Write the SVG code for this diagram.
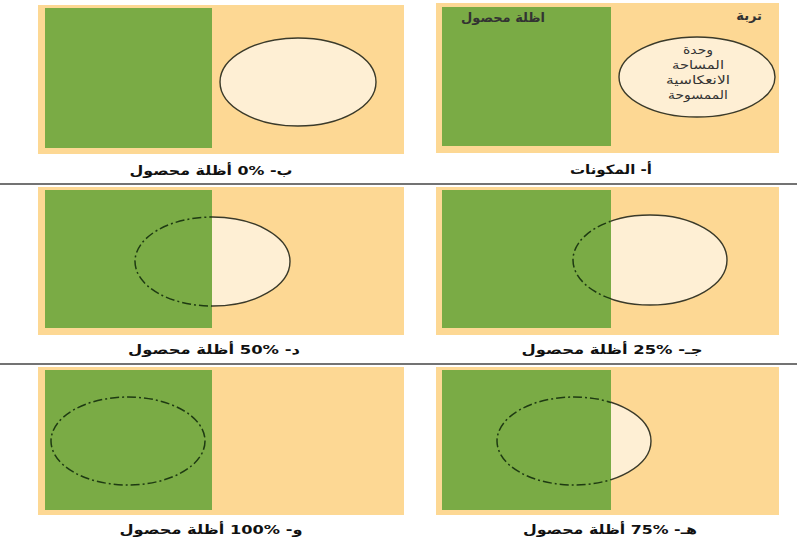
<svg xmlns="http://www.w3.org/2000/svg" width="797" height="543" viewBox="0 0 797 543">
<style>
.soil{fill:#FDD894}
.crop{fill:#7AAB45}
.unit{fill:#FEEFD4;stroke:#3a3a2a;stroke-width:1.4}
.hid{fill:none;stroke:#1E3A12;stroke-width:1.5;stroke-dasharray:9 3 2 3}
.cap{font-family:"DejaVu Sans",sans-serif;font-size:13px;font-weight:bold;fill:#111;text-anchor:middle}
.lbl{font-family:"DejaVu Sans",sans-serif;font-size:12px;fill:#333;text-anchor:middle}
.sep{stroke:#444;stroke-width:1.5}
</style>
<defs>
<clipPath id="gL1"><rect x="45" y="190" width="167" height="138"/></clipPath>
<clipPath id="gR1"><rect x="442" y="190" width="169" height="138"/></clipPath>
<clipPath id="gL2"><rect x="45" y="370" width="167" height="140"/></clipPath>
<clipPath id="gR2"><rect x="442" y="370" width="169" height="140"/></clipPath>
</defs>
<rect width="797" height="543" fill="#fff"/>
<g id="separators">
<line class="sep" x1="0" y1="184" x2="797" y2="184"/>
<line class="sep" x1="0" y1="364" x2="797" y2="364"/>
</g>
<g id="panel-a">
<rect class="soil" x="436" y="3" width="343" height="150"/>
<rect class="crop" x="442" y="7" width="169" height="139"/>
<ellipse class="unit" cx="697" cy="77" rx="78" ry="40"/>
<text class="lbl" x="762" y="20" style="text-anchor:end;font-size:13px;font-weight:bold">تربة</text>
<text class="lbl" x="503" y="22" style="font-size:13px;font-weight:bold">اظلة محصول</text>
<text class="lbl" x="698" y="54" textLength="30" lengthAdjust="spacingAndGlyphs">وحدة</text>
<text class="lbl" x="698" y="69" textLength="52" lengthAdjust="spacingAndGlyphs">المساحة</text>
<text class="lbl" x="698" y="84" textLength="64" lengthAdjust="spacingAndGlyphs">الانعكاسية</text>
<text class="lbl" x="698" y="99" textLength="60" lengthAdjust="spacingAndGlyphs">الممسوحة</text>
<text class="cap" x="611" y="174" direction="rtl" textLength="82" lengthAdjust="spacingAndGlyphs">أ- المكونات</text>
</g>
<g id="panel-b">
<rect class="soil" x="38" y="5" width="366" height="149"/>
<rect class="crop" x="45" y="8" width="167" height="140"/>
<ellipse class="unit" cx="298" cy="82" rx="78" ry="44"/>
<text class="cap" x="211" y="175" direction="rtl" textLength="163" lengthAdjust="spacingAndGlyphs">ب- %0 أظلة محصول</text>
</g>
<g id="panel-c">
<rect class="soil" x="436" y="187" width="343" height="148"/>
<ellipse class="unit" cx="650" cy="260" rx="77" ry="45"/>
<rect class="crop" x="442" y="190" width="169" height="138"/>
<ellipse class="hid" cx="650" cy="260" rx="77" ry="45" clip-path="url(#gR1)"/>
<text class="cap" x="612" y="354" direction="rtl" textLength="181" lengthAdjust="spacingAndGlyphs">جـ- %25 أظلة محصول</text>
</g>
<g id="panel-d">
<rect class="soil" x="38" y="187" width="366" height="148"/>
<ellipse class="unit" cx="212.5" cy="261.5" rx="77.5" ry="44.5"/>
<rect class="crop" x="45" y="190" width="167" height="138"/>
<ellipse class="hid" cx="212.5" cy="261.5" rx="77.5" ry="44.5" clip-path="url(#gL1)"/>
<text class="cap" x="214" y="354" direction="rtl" textLength="172" lengthAdjust="spacingAndGlyphs">د- %50 أظلة محصول</text>
</g>
<g id="panel-e">
<rect class="soil" x="436" y="367" width="343" height="148"/>
<ellipse class="unit" cx="574" cy="441" rx="77" ry="44"/>
<rect class="crop" x="442" y="370" width="169" height="140"/>
<ellipse class="hid" cx="574" cy="441" rx="77" ry="44" clip-path="url(#gR2)"/>
<text class="cap" x="610" y="534" direction="rtl" textLength="174" lengthAdjust="spacingAndGlyphs">هـ- %75 أظلة محصول</text>
</g>
<g id="panel-f">
<rect class="soil" x="38" y="367" width="366" height="148"/>
<rect class="crop" x="45" y="370" width="167" height="140"/>
<ellipse class="hid" cx="128" cy="441" rx="77" ry="44" clip-path="url(#gL2)"/>
<text class="cap" x="211" y="534" direction="rtl" textLength="183" lengthAdjust="spacingAndGlyphs">و- %100 أظلة محصول</text>
</g>
</svg>
